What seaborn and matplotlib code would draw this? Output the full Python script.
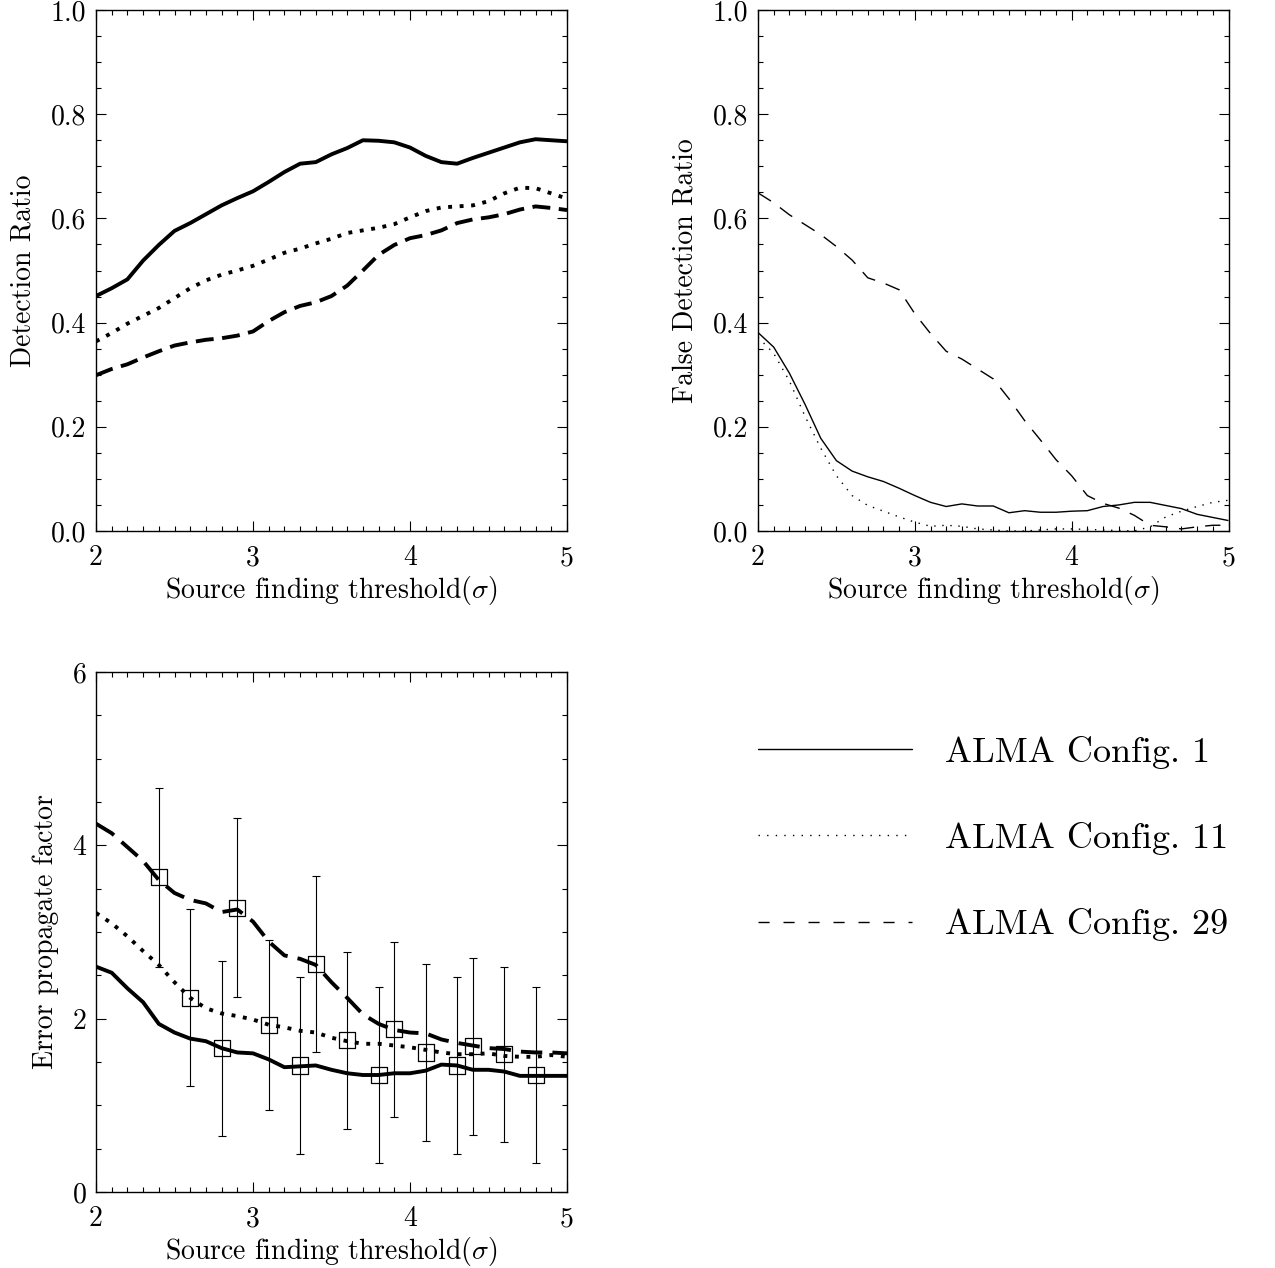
import matplotlib
matplotlib.use("Agg")
import matplotlib.pyplot as plt
import seaborn as sns
import pandas as pd
from matplotlib.lines import Line2D
from matplotlib.ticker import MultipleLocator, FormatStrFormatter

# ---------------- data ----------------
threshold = [2.0, 2.1, 2.2, 2.3, 2.4, 2.5, 2.6, 2.7, 2.8, 2.9, 3.0,
             3.1, 3.2, 3.3, 3.4, 3.5, 3.6, 3.7, 3.8, 3.9, 4.0,
             4.1, 4.2, 4.3, 4.4, 4.5, 4.6, 4.7, 4.8, 4.9, 5.0]

config_labels = ["ALMA Config. 1", "ALMA Config. 11", "ALMA Config. 29"]

# Detection ratio
det_c1 = [0.451, 0.466, 0.483, 0.519, 0.549, 0.576, 0.591, 0.608, 0.625, 0.639, 0.652,
          0.670, 0.689, 0.705, 0.708, 0.723, 0.735, 0.750, 0.749, 0.746, 0.736,
          0.720, 0.708, 0.705, 0.716, 0.726, 0.736, 0.746, 0.752, 0.750, 0.748]
det_c11 = [0.364, 0.380, 0.398, 0.413, 0.428, 0.447, 0.466, 0.481, 0.492, 0.500, 0.509,
           0.521, 0.534, 0.542, 0.552, 0.561, 0.572, 0.577, 0.582, 0.589, 0.602,
           0.614, 0.621, 0.623, 0.625, 0.633, 0.648, 0.659, 0.658, 0.648, 0.638]
det_c29 = [0.299, 0.311, 0.320, 0.333, 0.345, 0.356, 0.362, 0.367, 0.370, 0.375, 0.383,
           0.403, 0.420, 0.432, 0.439, 0.451, 0.471, 0.500, 0.530, 0.549, 0.562,
           0.568, 0.577, 0.591, 0.598, 0.602, 0.608, 0.617, 0.623, 0.620, 0.616]

# False detection ratio
fdr_c1 = [0.381, 0.353, 0.303, 0.243, 0.178, 0.135, 0.115, 0.104, 0.095, 0.082, 0.068,
          0.055, 0.047, 0.052, 0.048, 0.048, 0.035, 0.039, 0.036, 0.036, 0.038,
          0.039, 0.047, 0.050, 0.055, 0.055, 0.049, 0.043, 0.032, 0.026, 0.020]
fdr_c11 = [0.372, 0.341, 0.288, 0.220, 0.159, 0.106, 0.068, 0.049, 0.038, 0.027, 0.017,
           0.009, 0.011, 0.009, 0.004, 0.002, 0.000, 0.000, 0.002, 0.004, 0.004,
           0.003, 0.002, 0.001, 0.000, 0.008, 0.027, 0.038, 0.047, 0.055, 0.059]
fdr_c29 = [0.649, 0.630, 0.607, 0.588, 0.569, 0.546, 0.520, 0.486, 0.476, 0.463, 0.417,
           0.379, 0.345, 0.330, 0.311, 0.292, 0.254, 0.212, 0.175, 0.137, 0.106,
           0.068, 0.053, 0.044, 0.030, 0.011, 0.008, 0.004, 0.008, 0.011, 0.011]

# Error propagate factor
epf_c1 = [2.60, 2.53, 2.35, 2.19, 1.94, 1.84, 1.77, 1.74, 1.66, 1.61, 1.60,
          1.53, 1.44, 1.45, 1.46, 1.41, 1.37, 1.35, 1.35, 1.37, 1.37,
          1.40, 1.47, 1.46, 1.41, 1.41, 1.39, 1.34, 1.34, 1.34, 1.34]
epf_c11 = [3.22, 3.10, 2.95, 2.78, 2.62, 2.42, 2.24, 2.12, 2.06, 2.03, 1.99,
           1.93, 1.90, 1.86, 1.84, 1.78, 1.74, 1.71, 1.71, 1.69, 1.67,
           1.64, 1.61, 1.59, 1.59, 1.60, 1.57, 1.56, 1.56, 1.58, 1.56]
epf_c29 = [4.25, 4.14, 3.98, 3.82, 3.60, 3.45, 3.37, 3.33, 3.23, 3.26, 3.12,
           2.89, 2.73, 2.69, 2.62, 2.42, 2.24, 2.05, 1.94, 1.87, 1.84,
           1.83, 1.76, 1.72, 1.69, 1.66, 1.65, 1.62, 1.61, 1.61, 1.60]

# Error-bar points (open squares)
pt_x = [2.4, 2.6, 2.8, 2.9, 3.1, 3.3, 3.4, 3.6, 3.8, 3.9, 4.1, 4.3, 4.4, 4.6, 4.8]
pt_y = [3.63, 2.24, 1.66, 3.28, 1.93, 1.46, 2.63, 1.75, 1.35, 1.88, 1.61, 1.46, 1.68, 1.59, 1.35]
pt_err = [1.03, 1.02, 1.01, 1.03, 0.98, 1.02, 1.02, 1.02, 1.01, 1.01, 1.02, 1.02, 1.02, 1.01, 1.02]

# ---------------- style ----------------
sns.set_theme(style="ticks")
plt.rcParams["font.family"] = ["cmr10", "DejaVu Serif"]
plt.rcParams.update({
    "mathtext.fontset": "cm",
    "axes.formatter.use_mathtext": True,
    "axes.unicode_minus": False,
    "axes.edgecolor": "black",
    "axes.linewidth": 1.0,
    "xtick.color": "black",
    "ytick.color": "black",
    "text.color": "black",
    "axes.labelcolor": "black",
})

FS = 20
W, H = 1275, 1268
fig = plt.figure(figsize=(W / 100, H / 100), dpi=100)


def fx(px):
    return px / W


def fy(py):
    return 1 - py / H


ax1 = fig.add_axes([fx(96), fy(531), fx(567) - fx(96), fy(10) - fy(531)])
ax2 = fig.add_axes([fx(758), fy(531), fx(1228.5) - fx(758), fy(10) - fy(531)])
ax3 = fig.add_axes([fx(96), fy(1192), fx(567) - fx(96), fy(672) - fy(1192)])

THICK = 2.8
THIN = 1.0
styles_p1 = ["-", (0, (1, 1.96)), (0, (4.6, 2.2))]
styles_p3 = ["-", (0, (1, 1.96)), (0, (5.5, 2.6))]
styles_thin = ["-", (0, (1, 4.8)), (0, (11, 8))]

panels = [
    (ax1, [det_c1, det_c11, det_c29], THICK, styles_p1, "Detection Ratio"),
    (ax2, [fdr_c1, fdr_c11, fdr_c29], THIN, styles_thin, "False Detection Ratio"),
    (ax3, [epf_c1, epf_c11, epf_c29], THICK, styles_p3, "Error propagate factor"),
]

for ax, series, lw, styles, ylab in panels:
    for vals, ls, lab in zip(series, styles, config_labels):
        df = pd.DataFrame({"threshold": threshold, "value": vals})
        sns.lineplot(data=df, x="threshold", y="value", ax=ax, color="black",
                     linewidth=lw, linestyle=ls, dash_capstyle="butt",
                     solid_capstyle="butt", legend=False, zorder=3)
    ax.set_xlim(2, 5)
    ax.xaxis.set_major_locator(MultipleLocator(1))
    ax.xaxis.set_minor_locator(MultipleLocator(0.1))
    ax.xaxis.set_major_formatter(FormatStrFormatter("%d"))
    ax.tick_params(which="both", direction="in", top=True, right=True,
                   width=0.8, labelsize=FS)
    ax.tick_params(which="major", length=7)
    ax.tick_params(which="minor", length=3.5)
    ax.tick_params(axis="x", pad=10)
    ax.tick_params(axis="y", pad=7)
    ax.set_xlabel(r"Source finding threshold($\sigma$)", fontsize=FS, labelpad=1.7)
    ax.set_ylabel(ylab, fontsize=FS, labelpad=10)
    for sp in ax.spines.values():
        sp.set_visible(True)
        sp.set_linewidth(1.0)

for ax in (ax1, ax2):
    ax.set_ylim(0, 1.0)
    ax.yaxis.set_major_locator(MultipleLocator(0.2))
    ax.yaxis.set_minor_locator(MultipleLocator(0.05))
    ax.yaxis.set_major_formatter(FormatStrFormatter("%.1f"))

ax3.set_ylim(0, 6)
ax3.yaxis.set_major_locator(MultipleLocator(2))
ax3.yaxis.set_minor_locator(MultipleLocator(0.5))
ax3.yaxis.set_major_formatter(FormatStrFormatter("%d"))

# error bars and open squares
ax3.errorbar(pt_x, pt_y, yerr=pt_err, fmt="none", ecolor="black",
             elinewidth=0.8, capsize=3, capthick=0.8, zorder=4)
sns.scatterplot(x=pt_x, y=pt_y, ax=ax3, marker="s", s=135,
                facecolor="none", edgecolor="black", linewidth=0.9,
                legend=False, zorder=5)

# legend in the empty fourth quadrant
handles = [
    Line2D([], [], color="black", lw=1.0, linestyle="-"),
    Line2D([], [], color="black", lw=1.0, linestyle=(0, (1, 5.2))),
    Line2D([], [], color="black", lw=1.0, linestyle=(0, (8, 10))),
]
fig.legend(handles, config_labels, loc="upper left",
           bbox_to_anchor=(fx(758), fy(736)), frameon=False,
           fontsize=26, handlelength=4.27, handletextpad=0.9,
           labelspacing=1.47, borderpad=0, borderaxespad=0)

fig.savefig("out.png", dpi=100)
